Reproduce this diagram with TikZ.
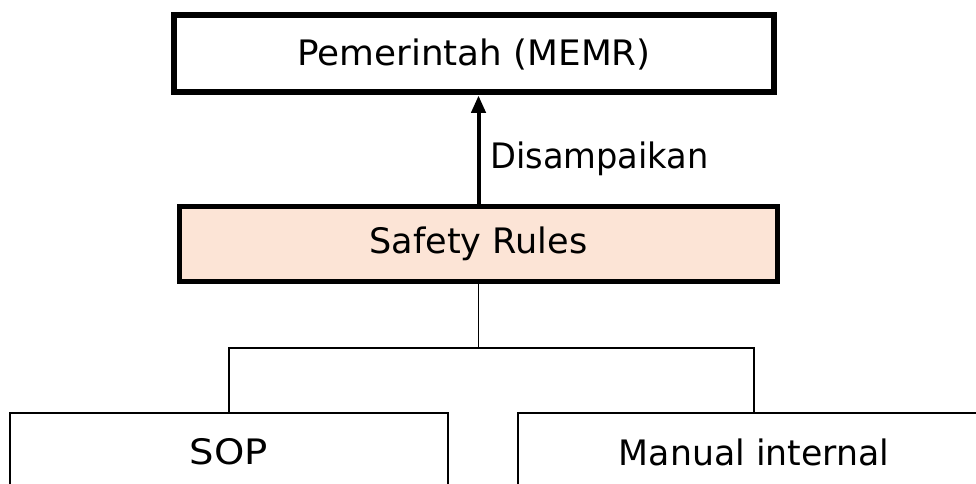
\documentclass[tikz,border=0pt]{standalone}
\usepackage{fontspec}
\usepackage{graphicx}
\setmainfont{DejaVu Sans}
\usetikzlibrary{arrows.meta}
\definecolor{peach}{HTML}{FCE4D6}
\newcommand{\widthfit}[2]{\scalebox{#1}[1]{#2}}
\begin{document}
\begin{tikzpicture}[x=0.75pt,y=-0.75pt,
  lbl/.style={font=\fontsize{26.3pt}{30pt}\selectfont},
  mainbox/.style={draw=black,inner sep=0pt,lbl},
  leafbox/.style={draw=black,line width=1.1pt,inner sep=0pt,lbl,minimum height=58.5pt},
  link/.style={line width=1.2pt}]
\useasboundingbox (0,0) rectangle (976,484);
\clip (0,0) rectangle (976,484);

% top level: the ministry
\node[mainbox,line width=4.5pt,minimum width=450pt,minimum height=57.75pt]
  (gov) at (474,54) {\widthfit{1.02}{Pemerintah (MEMR)}};

% the rules document
\node[mainbox,line width=3.75pt,fill=peach,minimum width=448.5pt,minimum height=56.25pt]
  (rules) at (478.5,244) {\raisebox{-2pt}{Safety Rules}};

% supporting documents
\node[leafbox,minimum width=328.5pt] (sop) at (229,452) {\widthfit{1.1}{SOP}};
\node[leafbox,minimum width=354pt] (manual) at (754,452) {\widthfit{0.99}{Manual internal}};

% reporting arrow
\draw[line width=3pt,-{Triangle[length=13pt,width=10.5pt]}]
  (rules.north) -- (rules.north |- gov.south)
  node[pos=0.42,right=4pt,lbl] {\widthfit{0.96}{Disampaikan}};

% tree connectors
\coordinate (bus) at (478.5,348);
\draw[link] (rules.south) -- (bus);
\draw[link] (bus) -| (sop.north);
\draw[link] (bus) -| (manual.north);
\end{tikzpicture}
\end{document}
